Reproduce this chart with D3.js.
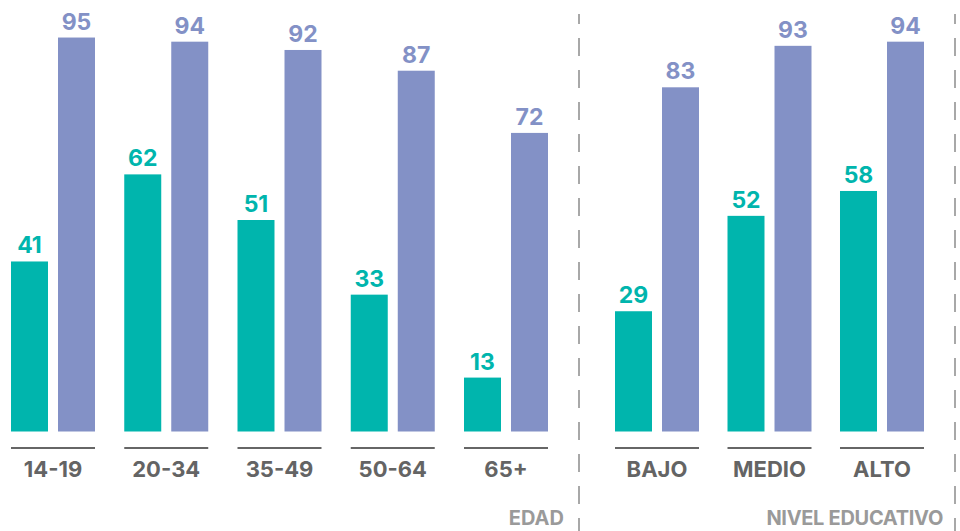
<!DOCTYPE html>
<html>
<head>
<meta charset="utf-8">
<script src="https://cdn.jsdelivr.net/npm/d3@7"></script>
<style>
  html, body { margin: 0; padding: 0; background: #fff; }
  svg { display: block; }
  text { font-family: Inter, "Open Sans", sans-serif; font-weight: 700; }
</style>
</head>
<body>
<svg id="chart" width="960" height="531"></svg>
<script>
const ageCategories = ["14-19", "20-34", "35-49", "50-64", "65+"];
const ageSeriesA = [41, 62, 51, 33, 13];
const ageSeriesB = [95, 94, 92, 87, 72];

const eduCategories = ["BAJO", "MEDIO", "ALTO"];
const eduSeriesA = [29, 52, 58];
const eduSeriesB = [83, 93, 94];

const sectionLabels = ["EDAD", "NIVEL EDUCATIVO"];

const colorA = "#00b5ad";
const colorB = "#8391c6";

const svg = d3.select("#chart");
const baseY = 431.5;
const y = d3.scaleLinear().domain([0, 100]).range([baseY, baseY - 414.7]);

function drawSection(categories, seriesA, seriesB, range, padding) {
  const x = d3.scaleBand().domain(categories).range(range).paddingInner(padding).paddingOuter(0);
  const sub = d3.scaleBand().domain(["a", "b"]).range([0, x.bandwidth()]).paddingInner(0.213).paddingOuter(0);
  const data = categories.map((c, i) => ({ c, a: seriesA[i], b: seriesB[i] }));
  const g = svg.append("g");
  const groups = g.selectAll("g.grp").data(data).join("g")
    .attr("transform", d => `translate(${x(d.c)},0)`);
  [["a", colorA], ["b", colorB]].forEach(([k, col]) => {
    groups.append("rect")
      .attr("x", sub(k))
      .attr("width", sub.bandwidth())
      .attr("y", d => y(d[k]))
      .attr("height", d => baseY - y(d[k]))
      .attr("fill", col);
    groups.append("text")
      .attr("x", sub(k) + sub.bandwidth() / 2)
      .attr("y", d => y(d[k]) - 8)
      .attr("text-anchor", "middle")
      .attr("font-size", 23)
      .attr("font-weight", 800)
      .attr("fill", col)
      .text(d => d[k]);
  });
  groups.append("line")
    .attr("x1", 0).attr("x2", x.bandwidth())
    .attr("y1", 448).attr("y2", 448)
    .attr("stroke", "#666").attr("stroke-width", 2.2);
  groups.append("text")
    .attr("x", x.bandwidth() / 2)
    .attr("y", 476.5)
    .attr("text-anchor", "middle")
    .attr("font-size", 22)
    .attr("fill", "#646464")
    .text(d => d.c);
}

drawSection(ageCategories, ageSeriesA, ageSeriesB, [11, 548], 0.2583);
drawSection(eduCategories, eduSeriesA, eduSeriesB, [615, 924], 0.2533);

// dashed separators
[579, 955].forEach(xp => {
  svg.append("line")
    .attr("x1", xp).attr("x2", xp)
    .attr("y1", 14).attr("y2", 531)
    .attr("stroke", "#a8a8a8").attr("stroke-width", 2)
    .attr("stroke-dasharray", "18,14")
    .attr("stroke-dashoffset", 8);
});

// section labels
svg.append("text").attr("x", 564).attr("y", 525).attr("text-anchor", "end")
  .attr("font-size", 20).attr("fill", "#9a9a9a").text(sectionLabels[0]);
svg.append("text").attr("x", 943).attr("y", 525).attr("text-anchor", "end")
  .attr("font-size", 20).attr("letter-spacing", -0.3).attr("fill", "#9a9a9a").text(sectionLabels[1]);
</script>
</body>
</html>
